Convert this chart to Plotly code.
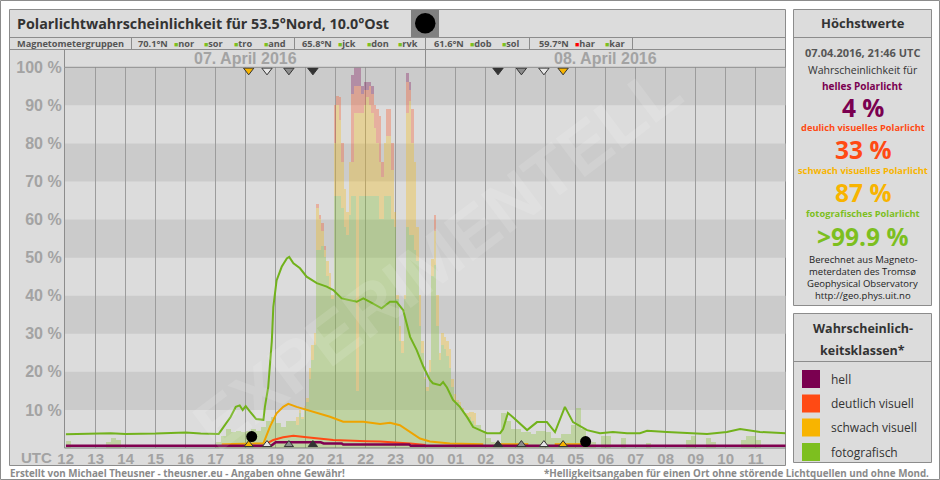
import plotly.graph_objects as go

W, H = 940, 480


def px(x):
    return x / W


def py(y):
    return 1 - y / H


# ---------------- data ----------------
hour_ticks = list(range(12, 36))
hour_labels = ["12", "13", "14", "15", "16", "17", "18", "19", "20", "21", "22", "23",
               "00", "01", "02", "03", "04", "05", "06", "07", "08", "09", "10", "11"]
pct_ticks = [10, 20, 30, 40, 50, 60, 70, 80, 90, 100]
pct_labels = ["10 %", "20 %", "30 %", "40 %", "50 %", "60 %", "70 %", "80 %", "90 %", "100 %"]
day_centers = [18, 30]
day_labels = ["07. April 2016", "08. April 2016"]

# quiet-time photographic probability, 10-minute bins from 12:00 UTC
quiet_green = [
    1.8, 0, 0, 0, 0, 0,          # 12
    0, 0, 1.5, 2.6, 2.0, 0,      # 13
    0, 0, 0, 0, 0, 0,            # 14
    0, 0, 0, 0, 0, 0,            # 15
    0, 0, 0, 0, 0, 0,            # 16
    1.5, 3.0, 5.0, 4.0, 4.5, 4.0,  # 17
    4.5, 5.0, 4.5, 5.5, 7.0, 8.0,  # 18
    6.5, 5.5, 7.0, 7.0, 0, 0,    # 19
    0, 0, 0, 0, 0, 0,            # 20
    0, 0, 0, 0, 0, 0,            # 21
    0, 0, 0, 0, 0, 0,            # 22
    0, 0, 0, 0, 0, 0,            # 23
    0, 0, 0, 0, 0, 0,            # 00
    0, 0, 0, 0, 6.0, 4.5,        # 01
    2.6, 1.5, 1.0, 9.0, 7.0, 5.0,  # 02
    5.0, 4.0, 4.0, 3.5, 4.5, 4.5,  # 03
    4.0, 2.5, 2.5, 3.5, 3.5, 6.0,  # 04
    10.5, 5.0, 2.0, 1.5, 0, 3.0,   # 05
    3.0, 0, 0, 2.6, 0, 0,          # 06
    0, 0, 1.2, 0, 0, 0,            # 07
    0, 0, 0, 0, 2.0, 3.0,          # 08
    0, 0, 2.5, 1.5, 0, 0,          # 09
    0, 0, 0, 2.0, 3.2, 3.0,        # 10
    2.0, 0, 0, 0, 0, 0,            # 11
]

# active period, 5-minute bins from 19:40 UTC: stacked tops (percent)
act_start = 19 + 40 / 60
act_green = [6, 9, 7.5, 10.5, 12, 18, 23, 27, 52, 52, 53, 50,
             45, 42, 39, 66, 66, 66, 63, 58, 56, 61, 66, 66,
             15, 66, 66, 66, 66, 66, 66, 66, 66, 60, 60, 66,
             66, 66, 60, 58, 39, 28, 25, 39, 58, 56, 56, 52,
             49, 32, 25, 18, 15, 20, 45, 48, 32, 23, 27, 26,
             24, 21, 16, 12, 12, 11, 10, 9, 8, 8, 7, 6]
act_yellow = [8, 10, 8, 11, 13, 21, 27, 30, 63, 60, 57, 52,
              49, 46, 40, 80, 90, 86, 75, 68, 62, 75, 75, 88,
              88, 88, 88, 90, 92, 90, 88, 84, 80, 75, 71, 80,
              82, 82, 73, 62, 40, 32, 28, 40, 88, 91, 80, 75,
              58, 40, 28, 18.5, 16, 23, 49.5, 57, 40, 25, 30, 29,
              28, 26, 18, 14, 12.6, 12, 10.5, 9, 9, 9.5, 9.5, 9]
act_pink = [8, 10, 8, 11, 13, 21, 27, 30, 64, 61, 59, 53,
            49, 46, 40, 90, 92.5, 92, 80, 68, 62, 75, 93, 95,
            95, 95, 93, 94, 94, 95, 93, 90, 89, 87, 75, 80,
            89, 89, 80, 62, 40, 32, 28, 40, 96, 94, 89, 75,
            58, 40, 28, 18.5, 16, 23, 49.5, 61, 40, 25, 30, 29,
            28, 26, 18, 14, 12.6, 12, 10.5, 9, 9, 9.5, 9.5, 9]
act_purple = [8, 10, 8, 11, 13, 21, 27, 30, 64, 61, 59, 53,
              49, 46, 40, 90, 92.5, 92, 80, 68, 62, 75, 98, 100,
              100, 100, 95, 96, 96, 96, 95, 90, 89, 87, 75, 80,
              89, 89, 80, 62, 40, 32, 28, 40, 98.5, 96, 89, 75,
              58, 40, 28, 18.5, 16, 23, 49.5, 61, 40, 25, 30, 29,
              28, 26, 18, 14, 12.6, 12, 10.5, 9, 9, 9.5, 9.5, 9]

# smoothed probability curves
foto_t = [12.0, 13.0, 13.5, 14.0, 15.0, 16.0, 16.5, 17.1, 17.25, 17.5, 17.67, 17.8, 17.9,
          18.0, 18.15, 18.35, 18.59, 18.64, 18.75, 18.87, 18.92, 19.03, 19.2, 19.37, 19.45,
          19.59, 19.81, 20.03, 20.37, 20.7, 20.92, 21.2, 21.7, 21.92, 22.14, 22.53, 22.81,
          23.03, 23.25, 23.48, 23.7, 23.92, 24.14, 24.24, 24.48, 24.58, 24.71, 24.91, 25.14,
          25.38, 25.58, 26.04, 26.48, 26.58, 26.74, 26.91, 27.38, 27.71, 28.04, 28.31, 28.64,
          28.91, 29.38, 29.81, 30.24, 30.71, 31.14, 31.38, 32.04, 32.71, 33.38, 34.04, 34.48,
          35.14, 36.0]
foto_pct = [3.6, 3.7, 3.9, 3.7, 3.8, 4.1, 3.8, 3.7, 5.4, 8.2, 10.8, 11.2, 10.0,
            11.0, 9.5, 7.6, 7.4, 10.8, 16, 28, 37, 44, 47.6, 49.8, 50.2,
            48.5, 47.2, 45, 43.3, 42.4, 41.5, 39.3, 38.4, 39.3, 38.4, 36.7, 38.4,
            38.4, 36.2, 29.2, 25.7, 21.4, 17.9, 17.0, 16.5, 17.3, 15.9, 12.6, 10.8,
            8.1, 5.5, 3.9, 3.9, 5.0, 9.2, 8.1, 4.7, 6.8, 6.8, 4.2, 10.8,
            6.8, 4.7, 3.9, 4.2, 3.9, 3.9, 4.5, 4.2, 3.9, 3.7, 4.2, 5.0,
            4.2, 3.9]

schwach_t = [17.2, 18.59, 18.81, 19.03, 19.25, 19.42, 19.7, 20.03, 20.37, 20.81, 21.25,
             21.59, 21.92, 22.48, 22.81, 23.14, 23.48, 23.81, 24.14, 24.48, 24.81, 25.92,
             None, 26.47, 27.42, None, 28.3, 29.2]
schwach_pct = [1.0, 1.2, 5.6, 9.1, 10.8, 11.6, 10.8, 10.0, 9.3, 8.2, 6.9,
               6.9, 6.9, 6.3, 6.6, 6.0, 4.3, 2.5, 1.7, 1.4, 1.2, 1.0,
               None, 1.0, 1.0, None, 1.0, 1.0]

deutlich_t = [18.7, 18.92, 19.25, 19.59, 20.03, 20.37, 20.92, 22.03, 22.48, 23.48, 23.81, 24.0]
deutlich_pct = [1.2, 2.1, 2.8, 3.2, 2.8, 2.5, 2.1, 1.8, 1.7, 1.2, 1.0, 0.8]

hell_t = [12.0, 18.85, 19.0, 20.5, 20.6, 21.2, 21.25, 23.45, 23.5, 36.0]
hell_pct = [0.6, 0.6, 1.5, 1.5, 1.2, 1.2, 0.9, 0.9, 0.6, 0.6]

# sun elevation markers (sunset / civil / nautical / astronomical twilight)
twilight_t = [18.10, 18.71, 19.44, 20.24, 26.41, 27.19, 27.94, 28.58]
twilight_fill = ["#f8b400", "#e6e6e6", "#8c8c8c", "#333333",
                 "#333333", "#8c8c8c", "#e6e6e6", "#f8b400"]
moon_t = [18.2, 29.33]
moon_pct = [3.0, 1.7]

# ---------------- styles ----------------
C_BG = "#dcdcdc"
C_BAND = "#cbcbcb"
C_BORDER = "#8c8c8c"
C_GRID = "#9c9c9c"
C_TICK = "#a3a3a3"
COL_HELL = "#7a0050"
COL_DEUT = "#ff4a14"
COL_SCHW = "#f8b400"
COL_FOTO = "#7dbf1f"

X0, X1 = 65.7, 785.7   # pixel x of 12:00 and next 12:00
Y100, Y0 = 67.3, 448.0

fig = go.Figure()

# bars -----------------------------------------------------------------
q_x = [12 + (i + 0.5) / 6 for i in range(len(quiet_green))]
fig.add_trace(go.Bar(x=q_x, y=quiet_green, base=[0] * len(quiet_green), width=1 / 6,
                     marker=dict(color="rgba(125,193,31,0.30)", line=dict(width=0)),
                     hoverinfo="skip", showlegend=False))

a_x = [act_start + (i + 0.5) / 12 for i in range(len(act_green))]
layers = [
    ([0] * len(act_green), act_green, "rgba(125,193,31,0.30)"),
    (act_green, act_yellow, "rgba(249,185,0,0.30)"),
    (act_yellow, act_pink, "rgba(255,74,20,0.30)"),
    (act_pink, act_purple, "rgba(122,0,80,0.30)"),
]
for lo, hi, col in layers:
    base = [min(a, b) for a, b in zip(lo, hi)]
    hgt = [max(b - a, 0) for a, b in zip(lo, hi)]
    fig.add_trace(go.Bar(x=a_x, y=hgt, base=base, width=1 / 12,
                         marker=dict(color=col, line=dict(width=0)),
                         hoverinfo="skip", showlegend=False))

# lines ----------------------------------------------------------------
fig.add_trace(go.Scatter(x=foto_t, y=foto_pct, mode="lines",
                         line=dict(color="#72b21c", width=2), showlegend=False))
fig.add_trace(go.Scatter(x=schwach_t, y=schwach_pct, mode="lines",
                         line=dict(color="#eea400", width=2), showlegend=False,
                         connectgaps=False))
fig.add_trace(go.Scatter(x=deutlich_t, y=deutlich_pct, mode="lines",
                         line=dict(color="#ff4a14", width=2), showlegend=False))
fig.add_trace(go.Scatter(x=hell_t, y=hell_pct, mode="lines",
                         line=dict(color="#800050", width=2.5), showlegend=False))

# markers ----------------------------------------------------------------
fig.add_trace(go.Scatter(x=twilight_t, y=[99.2] * len(twilight_t), mode="markers",
                         marker=dict(symbol="triangle-down", size=9, color=twilight_fill,
                                     line=dict(color="#333333", width=1)),
                         showlegend=False, cliponaxis=False))
fig.add_trace(go.Scatter(x=twilight_t, y=[0.9] * len(twilight_t), mode="markers",
                         marker=dict(symbol="triangle-up", size=8, color=twilight_fill,
                                     line=dict(color="#333333", width=1)),
                         showlegend=False))
fig.add_trace(go.Scatter(x=moon_t, y=moon_pct, mode="markers",
                         marker=dict(symbol="circle", size=11, color="black"),
                         showlegend=False, cliponaxis=False))

# ---------------- layout shapes ----------------
shapes = []


def rect(x0, y0, x1, y1, fill=None, line=C_BORDER, lw=1, layer="below"):
    shapes.append(dict(type="rect", xref="paper", yref="paper",
                       x0=px(x0), x1=px(x1), y0=py(y1), y1=py(y0),
                       fillcolor=fill if fill else "rgba(0,0,0,0)",
                       line=dict(color=line, width=lw) if line else dict(width=0),
                       layer=layer))


def hline(y, x0, x1, color=C_BORDER, layer="below"):
    shapes.append(dict(type="line", xref="paper", yref="paper", x0=px(x0), x1=px(x1),
                       y0=py(y), y1=py(y), line=dict(color=color, width=1), layer=layer))


def vline(x, y0, y1, color=C_BORDER, layer="below"):
    shapes.append(dict(type="line", xref="paper", yref="paper", x0=px(x), x1=px(x),
                       y0=py(y0), y1=py(y1), line=dict(color=color, width=1), layer=layer))


rect(0.5, 0.5, 939.5, 479.5, fill="white", line="#8c8c8c")
rect(9.5, 9.5, 785.5, 465.5, fill=C_BG)
rect(793.5, 9.5, 931.5, 305.5, fill=C_BG)
rect(793.5, 313.5, 931.5, 462.5, fill=C_BG)
hline(37.5, 9.5, 785.5)
hline(49.5, 9.5, 785.5)
hline(37.5, 793.5, 931.5)
hline(361.5, 793.5, 931.5)
rect(411, 10, 439, 37, fill="#808080", line=None)
for xs in [131.5, 294.5, 529.5, 632.5]:
    vline(xs, 37.5, 49.5)
vline(425.5, 37.5, 67.3)
vline(64.5, 49.5, 67.3)

# horizontal bands in plot
for b0 in [10, 30, 50, 70, 90]:
    shapes.append(dict(type="rect", xref="paper", yref="y", x0=px(64.5), x1=px(785.5),
                       y0=b0, y1=b0 + 10, fillcolor=C_BAND, line=dict(width=0), layer="below"))

# plot frame
hline(Y100, 64.5, 785.5, color=C_BORDER, layer="above")
hline(Y0, 64.5, 785.5, color="#7a7a7a", layer="above")
vline(64.5, Y100, Y0, color=C_BORDER, layer="above")

# moon disc in title bar
shapes.append(dict(type="circle", xref="paper", yref="paper",
                   x0=px(415), x1=px(435.5), y0=py(33.5), y1=py(13),
                   fillcolor="black", line=dict(color="black", width=0), layer="above"))

# ---------------- annotations ----------------
ann = []
FONT = "Open Sans"


def text(x, y, s, size, color="#333333", bold=False, xanchor="center", family=FONT, yanchor="middle"):
    ann.append(dict(xref="paper", yref="paper", x=px(x), y=py(y), text=s, showarrow=False,
                    xanchor=xanchor, yanchor=yanchor,
                    font=dict(family=family, size=size, color=color,
                              weight="bold" if bold else "normal")))


text(15, 23.5, "Polarlichtwahrscheinlichkeit für 53.5°Nord, 10.0°Ost", 14.3, "#333333", True, "left")

# magnetometer row
MG = "#555555"
GSQ = "<span style='color:#7dbf1f;font-size:7px'>■</span>"
RSQ = "<span style='color:#ff0000;font-size:7px'>■</span>"
MS = 9.2
text(15, 43.5, "Magnetometergruppen", MS, MG, True, "left")
groups = [
    (136, "70.1°N", [(172, GSQ, "nor"), (202, GSQ, "sor"), (232, GSQ, "tro"), (262, GSQ, "and")]),
    (300, "65.8°N", [(336, GSQ, "jck"), (365, GSQ, "don"), (396, GSQ, "rvk")]),
    (432, "61.6°N", [(468, GSQ, "dob"), (500, GSQ, "sol")]),
    (537, "59.7°N", [(573, RSQ, "har"), (603, GSQ, "kar")]),
]
for gx, glab, items in groups:
    text(gx, 43.5, glab, MS, MG, True, "left")
    for ix, sq, name in items:
        text(ix, 43.5, sq + name, MS, MG, True, "left")

# dates
for dc, dl in zip(day_centers, day_labels):
    ann.append(dict(xref="x", yref="paper", x=dc, y=py(58.5), text=dl, showarrow=False,
                    yanchor="middle",
                    font=dict(family="Liberation Sans", size=16, color=C_TICK, weight="bold")))

text(36, 457, "UTC", 15, C_TICK, True, "center", family="Liberation Sans")

# watermark
ann.append(dict(xref="paper", yref="paper", x=px(437), y=py(258), text="EXPERIMENTELL",
                showarrow=False, textangle=-37, yanchor="middle", xanchor="center",
                font=dict(family="Liberation Sans", size=70, color="rgba(255,255,255,0.12)",
                          weight="bold")))

# right panel: maxima
NUM = 24.5
text(862.5, 23.5, "Höchstwerte", 13, "#333333", True)
text(862.5, 52, "07.04.2016, 21:46 UTC", 11, "#555555", True)
text(862.5, 70, "Wahrscheinlichkeit für", 10.5, "#333333", False)
text(862.5, 86, "helles Polarlicht", 10, COL_HELL, True)
text(862.5, 107.5, "4 %", NUM, COL_HELL, True)
text(862.5, 127.5, "deulich visuelles Polarlicht", 9.3, COL_DEUT, True)
text(862.5, 149, "33 %", NUM, COL_DEUT, True)
text(862.5, 171, "schwach visuelles Polarlicht", 9.3, COL_SCHW, True)
text(862.5, 192, "87 %", NUM, COL_SCHW, True)
text(862.5, 213, "fotografisches Polarlicht", 9.3, COL_FOTO, True)
text(862.5, 236, ">99.9 %", NUM, COL_FOTO, True)
text(862.5, 259, "Berechnet aus Magneto-", 9.5, "#222222", False)
text(862.5, 271, "meterdaten des Tromsø", 9.5, "#222222", False)
text(862.5, 283, "Geophysical Observatory", 9.5, "#222222", False)
text(862.5, 295, "http://geo.phys.uit.no", 9.5, "#222222", False)

# right panel: legend
text(862.5, 328, "Wahrscheinlich-", 12.5, "#333333", True)
text(862.5, 350, "keitsklassen*", 12.5, "#333333", True)
leg_names = ["hell", "deutlich visuell", "schwach visuell", "fotografisch"]
leg_cols = [COL_HELL, COL_DEUT, COL_SCHW, COL_FOTO]
leg_y = [379, 403.5, 427.5, 452]
for nm, cl, ly in zip(leg_names, leg_cols, leg_y):
    rect(802, ly - 9, 820, ly + 9, fill=cl, line=None, layer="above")
    text(829, ly, nm, 12, "#333333", False, "left")

# footer
text(8, 473.2, "Erstellt von Michael Theusner - theusner.eu - Angaben ohne Gewähr!", 9.8, "#8a8a8a", True, "left")
text(931, 473.2, "*Helligkeitsangaben für einen Ort ohne störende Lichtquellen und ohne Mond.", 9.8, "#8a8a8a", True, "right")

fig.update_layout(
    width=W, height=H, autosize=False,
    margin=dict(l=0, r=0, t=0, b=0, pad=0, autoexpand=False),
    paper_bgcolor="white", plot_bgcolor="rgba(0,0,0,0)",
    barmode="overlay", bargap=0,
    shapes=shapes, annotations=ann, showlegend=False,
    xaxis=dict(domain=[px(X0), px(X1)], range=[12, 36], tickvals=hour_ticks, ticktext=hour_labels,
               showgrid=True, gridcolor=C_GRID, gridwidth=1, zeroline=False, showline=False,
               ticks="", ticklabelstandoff=0, automargin=False,
               tickfont=dict(family="Liberation Sans", size=15, color=C_TICK, weight="bold"),
               fixedrange=True),
    yaxis=dict(domain=[py(Y0), py(Y100)], range=[0, 100], tickvals=pct_ticks, ticktext=pct_labels,
               showgrid=False, zeroline=False, showline=False, ticks="", ticklabelstandoff=3,
               automargin=False,
               tickfont=dict(family="Liberation Sans", size=16, color=C_TICK, weight="bold"),
               fixedrange=True),
)

fig.write_html("out.html", config={"responsive": False, "displayModeBar": False},
               post_script="document.body.style.margin='0';document.body.style.padding='0';")
